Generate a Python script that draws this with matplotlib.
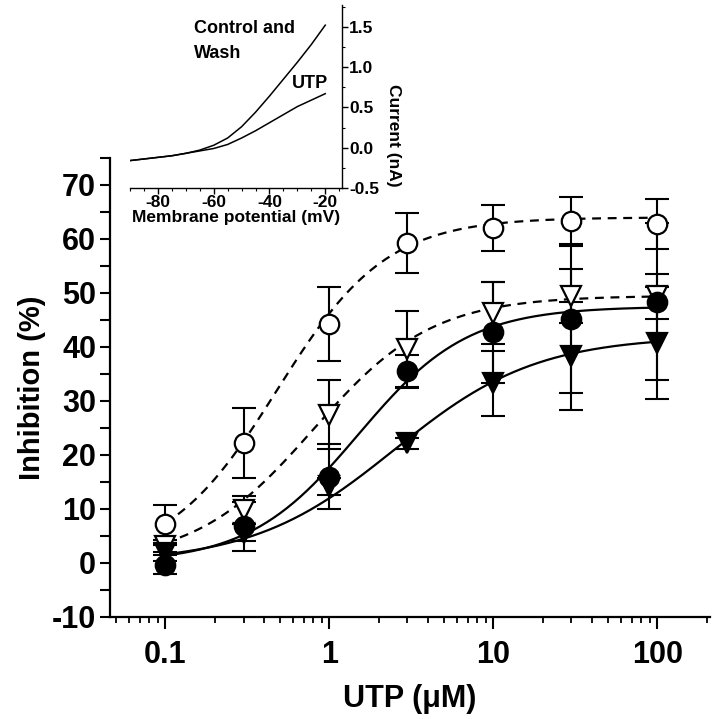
import numpy as np
import matplotlib
matplotlib.use('Agg')
import matplotlib.pyplot as plt
from matplotlib.ticker import MultipleLocator, LogLocator, FixedLocator, NullFormatter

plt.rcParams['font.family'] = ['Liberation Sans', 'DejaVu Sans']
plt.rcParams['font.weight'] = 'bold'
plt.rcParams['axes.unicode_minus'] = False

# UTP concentrations (uM)
utp = [0.1, 0.3, 1, 3, 10, 30, 100]

# inhibition (%) +- sem
open_circle = [7.2, 22.2, 44.3, 59.3, 62.0, 63.4, 62.8]
open_circle_err = [3.5, 6.5, 6.9, 5.6, 4.3, 4.3, 4.7]
open_tri = [3.1, 9.9, 27.5, 39.6, 46.3, 49.4, 49.4]
open_tri_err = [1.1, 2.6, 6.4, 7.0, 5.8, 5.0, 4.2]
closed_circle = [-0.3, 6.8, 16.0, 35.5, 42.7, 45.1, 48.4]
closed_circle_err = [1.7, 4.5, 6.0, 3.0, 9.3, 13.6, 14.5]
closed_tri = [1.9, 5.6, 14.2, 22.2, 33.3, 38.3, 40.7]
closed_tri_err = [1.5, 1.6, 1.6, 1.0, 6.0, 10.0, 10.4]

# Hill fit parameters for each curve: top, EC50, slope
fit_open_circle = (64.0, 0.48, 1.3)
fit_open_tri = (49.5, 0.8, 1.2)
fit_closed_circle = (47.5, 1.5, 1.3)
fit_closed_tri = (42.0, 2.5, 1.0)

# inset I-V traces
membrane_mv = [-90, -85, -80, -75, -70, -65, -60, -55, -50, -45, -40, -35, -30, -25, -20]
control_na = [-0.16, -0.14, -0.12, -0.10, -0.07, -0.03, 0.03, 0.12, 0.26, 0.44, 0.64, 0.85, 1.06, 1.28, 1.52]
utp_na = [-0.16, -0.14, -0.12, -0.10, -0.07, -0.04, -0.01, 0.04, 0.12, 0.21, 0.31, 0.41, 0.51, 0.59, 0.67]


def hill(x, top, ec50, n):
    return top * x**n / (ec50**n + x**n)


W, H = 714, 719
fig = plt.figure(figsize=(W / 100, H / 100), dpi=100)

# main plot
ax = fig.add_axes([110 / W, (H - 617) / H, 600 / W, 459 / H])
xs = np.logspace(-1, 2, 300)

series = [
    (open_circle, open_circle_err, fit_open_circle, 'o', 'white', (0, (4, 3))),
    (open_tri, open_tri_err, fit_open_tri, 'v', 'white', (0, (4, 3))),
    (closed_circle, closed_circle_err, fit_closed_circle, 'o', 'black', '-'),
    (closed_tri, closed_tri_err, fit_closed_tri, 'v', 'black', '-'),
]
for vals, err, fit, mk, fc, ls in series:
    ax.plot(xs, hill(xs, *fit), color='black', lw=1.6, linestyle=ls, zorder=2)
    ax.errorbar(utp, vals, yerr=err, fmt='none', ecolor='black', elinewidth=1.5,
                capsize=8.5, capthick=1.5, zorder=3)
    ax.plot(utp, vals, linestyle='none', marker=mk, markersize=14 if mk == 'o' else 15,
            markerfacecolor=fc, markeredgecolor='black', markeredgewidth=1.6, zorder=4)

ax.set_xscale('log')
ax.set_xlim(0.046, 210)
ax.set_ylim(-10, 75)
ax.xaxis.set_major_locator(FixedLocator([0.1, 1, 10, 100]))
ax.set_xticklabels(['0.1', '1', '10', '100'])
ax.xaxis.set_minor_locator(LogLocator(base=10, subs=np.arange(2, 10)))
ax.xaxis.set_minor_formatter(NullFormatter())
ax.yaxis.set_major_locator(FixedLocator(range(-10, 71, 10)))
ax.yaxis.set_minor_locator(MultipleLocator(5))
for s in ['top', 'right']:
    ax.spines[s].set_visible(False)
for s in ['left', 'bottom']:
    ax.spines[s].set_linewidth(1.6)
ax.tick_params(axis='x', which='major', length=8.5, width=1.5, labelsize=22, pad=8)
ax.tick_params(axis='x', which='minor', length=4, width=1.3)
ax.tick_params(axis='y', which='both', length=7, width=1.5, labelsize=22, pad=3)
ax.set_xlabel('UTP (\u03bcM)', fontsize=22, fontweight='bold', labelpad=10)
ax.set_ylabel('Inhibition (%)', fontsize=21, fontweight='bold', labelpad=4)

# inset: I-V curves
ins = fig.add_axes([130 / W, (H - 188) / H, 212 / W, 183 / H])
ins.plot(membrane_mv, control_na, color='black', lw=1.1)
ins.plot(membrane_mv, utp_na, color='black', lw=1.1)
ins.set_xlim(-90, -14)
ins.set_ylim(-0.5, 1.77)
ins.spines['top'].set_visible(False)
ins.spines['left'].set_visible(False)
ins.spines['right'].set_linewidth(1.0)
ins.spines['bottom'].set_linewidth(1.0)
ins.yaxis.tick_right()
ins.yaxis.set_major_locator(FixedLocator([-0.5, 0.0, 0.5, 1.0, 1.5]))
ins.yaxis.set_minor_locator(MultipleLocator(0.25))
ins.xaxis.set_major_locator(FixedLocator([-80, -60, -40, -20]))
ins.xaxis.set_minor_locator(MultipleLocator(5))
ins.tick_params(which='major', length=4, width=1.0, labelsize=12.5, pad=1)
ins.tick_params(which='minor', length=2, width=0.8)
ins.set_xlabel('Membrane potential (mV)', fontsize=12.5, fontweight='bold', labelpad=0)
ins.text(-67, 1.32, 'Control and\nWash', fontsize=13, fontweight='bold', va='center',
         linespacing=1.6)
ins.text(-32, 0.80, 'UTP', fontsize=13, fontweight='bold', va='center')
fig.text(393 / W, 1 - 135 / H, 'Current (nA)', rotation=270, fontsize=12.5,
         fontweight='bold', ha='center', va='center')

fig.savefig('out.png', dpi=100)
